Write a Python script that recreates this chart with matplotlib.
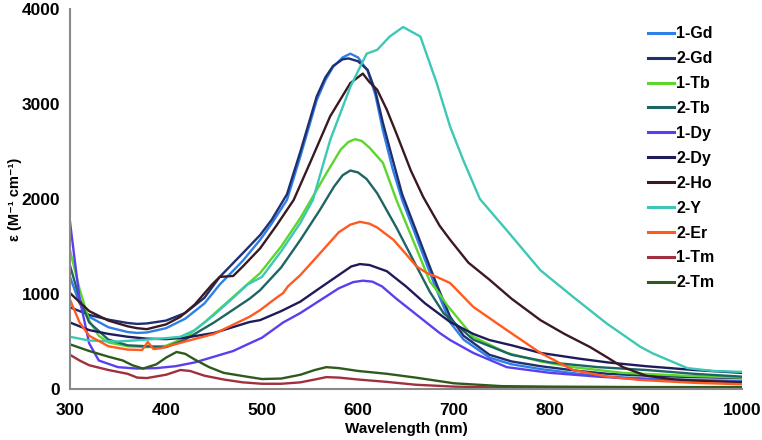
import matplotlib.pyplot as plt
import numpy as np

# values (wavelength in nm, epsilon in M^-1 cm^-1)
wl_gd1 = [300, 310, 320, 340, 360, 370, 380, 400, 420, 440, 456, 480, 498, 510, 526, 540, 557, 566, 574, 584, 592,
          600, 610, 618, 626, 636, 646, 660, 672, 682, 696, 710, 737, 760, 790, 830, 860, 900, 950, 1000]
eps_gd1 = [1180, 900, 760, 650, 600, 590, 595, 640, 740, 900, 1100, 1350, 1570, 1740, 1990, 2450, 3040, 3250, 3390, 3490, 3530,
           3490, 3350, 3100, 2720, 2320, 1990, 1620, 1300, 1040, 700, 520, 330, 260, 210, 160, 130, 110, 95, 85]

wl_gd2 = [300, 310, 320, 340, 360, 370, 380, 400, 420, 440, 456, 480, 498, 510, 526, 540, 557, 566, 574, 584, 590,
          600, 610, 618, 626, 636, 646, 660, 672, 682, 696, 710, 737, 760, 790, 830, 860, 900, 950, 1000]
eps_gd2 = [860, 820, 780, 730, 695, 685, 690, 720, 800, 960, 1180, 1430, 1620, 1780, 2050, 2500, 3080, 3280, 3400, 3470, 3480,
           3450, 3360, 3140, 2800, 2420, 2050, 1680, 1360, 1100, 760, 560, 360, 290, 240, 190, 160, 140, 125, 115]

wl_tb1 = [300, 310, 320, 330, 340, 360, 380, 400, 420, 440, 460, 480, 498, 520, 540, 555, 567, 582, 590, 597, 604, 612,
          626, 640, 660, 675, 685, 693, 720, 755, 790, 824, 876, 940, 1000]
eps_tb1 = [1460, 1050, 720, 560, 490, 450, 440, 455, 540, 700, 880, 1060, 1220, 1500, 1800, 2060, 2270, 2520, 2600, 2630, 2610, 2540,
           2380, 1990, 1500, 1130, 1000, 880, 550, 380, 290, 230, 170, 140, 120]

wl_tb2 = [300, 310, 320, 340, 360, 380, 400, 420, 450, 487, 498, 520, 540, 560, 575, 584, 592, 600, 609, 620, 640,
          661, 675, 689, 720, 760, 800, 850, 900, 950, 1000]
eps_tb2 = [1300, 950, 700, 520, 460, 450, 440, 520, 700, 950, 1040, 1280, 1570, 1880, 2130, 2250, 2300, 2280, 2210, 2060, 1700,
           1290, 1020, 800, 520, 360, 280, 230, 200, 160, 130]

wl_dy1 = [300, 305, 310, 320, 330, 350, 370, 390, 410, 430, 450, 470, 487, 500, 522, 540, 560, 580, 595, 605,
          615, 625, 640, 660, 685, 696, 720, 755, 800, 850, 900, 950, 1000]
eps_dy1 = [1760, 1350, 950, 480, 300, 230, 215, 220, 240, 280, 340, 400, 480, 540, 700, 800, 930, 1060, 1125, 1140,
           1130, 1080, 950, 790, 590, 515, 380, 230, 170, 130, 100, 85, 75]

wl_dy2 = [300, 320, 340, 360, 380, 400, 420, 450, 487, 498, 520, 540, 557, 580, 593, 602, 612, 630, 650, 670, 696,
          720, 737, 760, 790, 830, 860, 900, 950, 1000]
eps_dy2 = [700, 620, 580, 550, 530, 525, 540, 590, 705, 725, 820, 920, 1040, 1200, 1290, 1315, 1305, 1240, 1080, 900, 705,
           580, 515, 460, 380, 320, 280, 240, 200, 170]

wl_ho2 = [300, 320, 340, 360, 370, 380, 400, 415, 430, 448, 456, 470, 480, 498, 515, 533, 550, 571, 592, 605,
          612, 620, 630, 640, 655, 668, 685, 696, 715, 737, 760, 790, 815, 842, 860, 876, 900, 930, 960, 1000]
eps_ho2 = [1010, 820, 720, 660, 640, 630, 680, 760, 890, 1100, 1180, 1190, 1290, 1480, 1720, 1990, 2380, 2870, 3220, 3320,
           3230, 3150, 2940, 2690, 2300, 2020, 1719, 1570, 1330, 1150, 950, 725, 580, 440, 330, 230, 140, 100, 85, 70]

wl_y2 = [300, 320, 350, 380, 400, 415, 430, 450, 470, 485, 500, 520, 540, 553, 571, 592, 609, 620, 633, 647,
         665, 682, 696, 710, 727, 755, 790, 824, 859, 894, 907, 943, 970, 1000]
eps_y2 = [550, 510, 500, 520, 535, 550, 620, 780, 960, 1100, 1180, 1450, 1750, 1990, 2620, 3180, 3530, 3570, 3710, 3810,
          3710, 3220, 2760, 2400, 2000, 1670, 1250, 970, 690, 445, 375, 220, 190, 180]

wl_er2 = [300, 310, 320, 340, 360, 375, 381, 387, 395, 420, 450, 487, 498, 515, 522, 527, 540, 557, 580, 592, 602,
          612, 620, 637, 650, 661, 672, 682, 696, 720, 755, 790, 824, 860, 894, 950, 1000]
eps_er2 = [940, 700, 560, 450, 415, 410, 495, 420, 430, 500, 580, 760, 830, 960, 1010, 1080, 1200, 1390, 1650, 1730, 1760,
           1740, 1700, 1570, 1420, 1290, 1220, 1180, 1115, 865, 620, 380, 200, 130, 95, 65, 50]

wl_tm1 = [300, 310, 320, 340, 360, 370, 380, 400, 415, 425, 440, 460, 480, 500, 520, 540, 555, 567, 580, 600,
          630, 660, 700, 750, 800, 900, 1000]
eps_tm1 = [360, 300, 250, 200, 160, 120, 115, 150, 200, 190, 140, 100, 70, 55, 55, 70, 100, 125, 120, 100,
           75, 45, 25, 15, 12, 10, 10]

wl_tm2 = [300, 320, 340, 355, 365, 376, 390, 400, 411, 420, 430, 445, 460, 484, 500, 520, 540, 555, 567, 580,
          600, 630, 660, 700, 750, 800, 900, 1000]
eps_tm2 = [470, 400, 340, 300, 250, 215, 260, 330, 390, 370, 310, 230, 170, 130, 105, 110, 150, 200, 230, 220,
           190, 160, 120, 60, 30, 25, 20, 20]

labels = ['1-Gd', '2-Gd', '1-Tb', '2-Tb', '1-Dy', '2-Dy', '2-Ho', '2-Y', '2-Er', '1-Tm', '2-Tm']
colors = ['#2F7FE8', '#1F2F70', '#5CD62A', '#1F6464', '#5A3FEF', '#1E1B5C',
          '#3A1A20', '#3CC8B4', '#FF5A1F', '#A0303F', '#2E5A1E']

series = [(wl_gd1, eps_gd1), (wl_gd2, eps_gd2), (wl_tb1, eps_tb1), (wl_tb2, eps_tb2),
          (wl_dy1, eps_dy1), (wl_dy2, eps_dy2), (wl_ho2, eps_ho2), (wl_y2, eps_y2),
          (wl_er2, eps_er2), (wl_tm1, eps_tm1), (wl_tm2, eps_tm2)]

plt.rcParams['font.family'] = ['Liberation Sans', 'DejaVu Sans']

fig = plt.figure(figsize=(7.62, 4.40), dpi=100)
ax = fig.add_axes([70 / 762, 1 - 389 / 440, 672 / 762, 380 / 440])

for (wl, eps), lab, col in zip(series, labels, colors):
    ax.plot(wl, eps, color=col, lw=1.7, label=lab, solid_joinstyle='round')

ax.set_xlim(300, 1000)
ax.set_ylim(0, 4000)
ax.xaxis.set_major_locator(plt.MultipleLocator(100))
ax.yaxis.set_major_locator(plt.MultipleLocator(1000))

for side in ['top', 'right']:
    ax.spines[side].set_visible(False)
for side in ['left', 'bottom']:
    ax.spines[side].set_color('#8a8a8a')
    ax.spines[side].set_linewidth(1.5)

ax.tick_params(length=0, labelsize=12.5, pad=7)
ax.tick_params(axis='x', pad=10)
for t in ax.get_xticklabels() + ax.get_yticklabels():
    t.set_fontweight('bold')

ax.set_xlabel('Wavelength (nm)', fontsize=11, fontweight='bold', labelpad=3)
ax.set_ylabel('ε (M⁻¹ cm⁻¹)', fontsize=10.5, fontweight='bold')
ax.yaxis.set_label_coords(-0.071, 0.5)

leg = ax.legend(loc='upper left', bbox_to_anchor=(634 / 762, 1 - 12 / 440), bbox_transform=fig.transFigure,
                frameon=False, handlelength=1.6, handletextpad=0.15, labelspacing=0.62,
                prop={'weight': 'bold', 'size': 11.5})
for line in leg.get_lines():
    line.set_linewidth(2.2)

fig.savefig('out.png', dpi=100)
